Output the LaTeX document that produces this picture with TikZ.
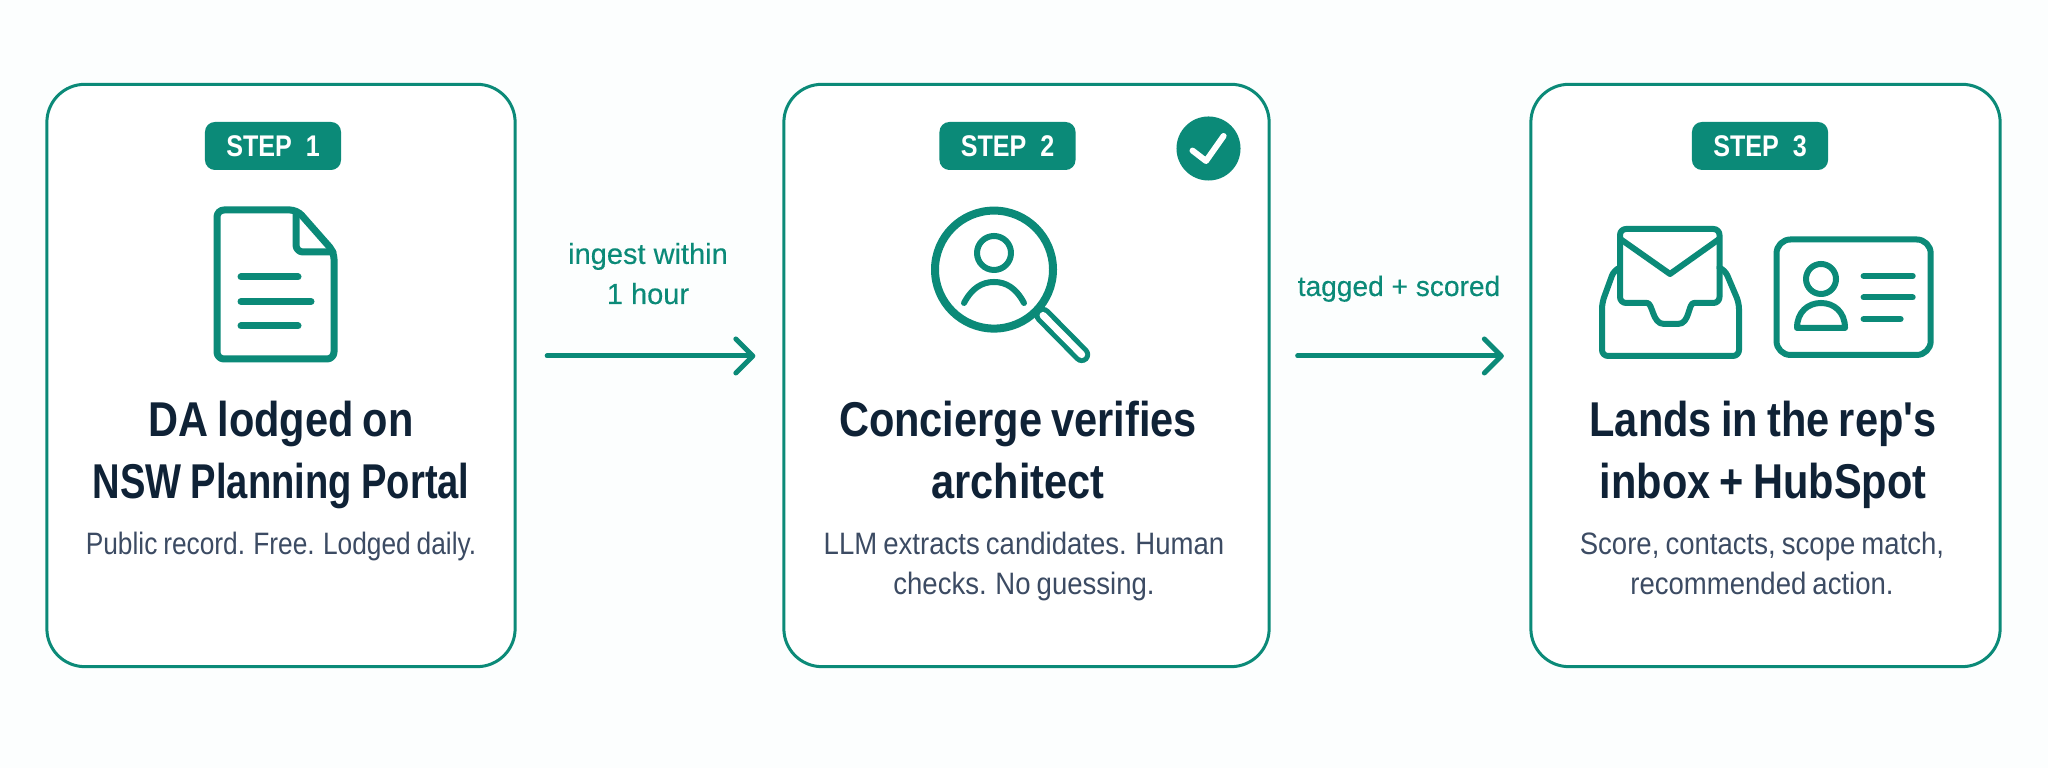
\documentclass[tikz,border=0pt]{standalone}
\usepackage{fontspec}
\setmainfont{Liberation Sans}
\newfontfamily\titlefont[FakeStretch=0.85,WordSpace=0.75]{Liberation Sans}
\newfontfamily\titlenarrow[FakeStretch=0.78,WordSpace=0.9]{Liberation Sans}
\newfontfamily\bodyfont[FakeStretch=0.89,WordSpace=0.8]{Liberation Sans}
\newfontfamily\bodynarrow[FakeStretch=0.85,WordSpace=0.8]{Liberation Sans}
\newfontfamily\stepfont[FakeStretch=0.84]{Liberation Sans}
\newfontfamily\labelfont[FakeBold=0.3]{Liberation Sans}
\usetikzlibrary{calc, positioning, arrows.meta, shapes}
\definecolor{teal1}{HTML}{0B8A78}
\definecolor{ink1}{HTML}{0F2236}
\definecolor{ink2}{HTML}{3C4B63}

\begin{document}
\begin{tikzpicture}[x=.01cm,y=-.01cm,
  card/.style={draw=teal1, line width=.03cm, fill=white, rounded corners=.38cm, minimum height=5.82cm, inner sep=0pt},
  pill/.style={fill=teal1, text=white, rounded corners=.1cm, minimum width=1.36cm, minimum height=.48cm, inner sep=0pt, font=\stepfont\fontsize{8.5pt}{10pt}\bfseries},
  headline/.style={text=ink1, align=center, inner sep=0pt, anchor=base, font=\titlefont\fontsize{13.9pt}{17.9pt}\bfseries\selectfont},
  detail/.style={text=ink2, align=center, inner sep=0pt, anchor=base, font=\bodyfont\fontsize{8.8pt}{11.6pt}\selectfont},
  flowlabel/.style={text=teal1, align=center, inner sep=0pt, anchor=base, font=\labelfont\fontsize{8.25pt}{11.4pt}\selectfont},
  flow/.style={draw=teal1, line width=.05cm, line cap=round, -{Straight Barb[length=.17cm, width=.34cm, round]}},
  icon/.style={draw=teal1, line width=.07cm, line cap=round, line join=round},
  iconthin/.style={draw=teal1, line width=.06cm, line cap=round, line join=round}]
  \useasboundingbox (0,0) rectangle (2048,768);
  \fill[white!99!teal1] (0,0) rectangle (2048,768);

  \node[card, minimum width=4.68cm] (card1) at (281,375.5) {};
  \node[card, minimum width=4.85cm] (card2) at (1026.5,375.5) {};
  \node[card, minimum width=4.69cm] (card3) at (1765.5,375.5) {};

  \node[pill] (step1) at (273,146) {STEP\ \ 1};
  \node[pill] (step2) at (1007.5,146) {STEP\ \ 2};
  \node[pill] (step3) at (1760,146) {STEP\ \ 3};

  \node[headline] (title1) at (281,499) {DA lodged on\\{\titlenarrow\bfseries NSW Planning Portal}};
  \node[headline] (title2) at (1018,499) {Concierge verifies\\architect};
  \node[headline] (title3) at (1763,499) {Lands in the rep's\\inbox + HubSpot};

  \node[detail, font=\bodynarrow\fontsize{8.8pt}{11.6pt}\selectfont] (text1) at (281,554.5) {Public record. Free. Lodged daily.};
  \node[detail] (text2) at (1024,595) {LLM extracts candidates. Human\\checks. No guessing.};
  \node[detail] (text3) at (1762,595) {Score, contacts, scope match,\\recommended action.};

  % connectors
  \coordinate (flowrow) at (0,356);
  \draw[flow, shorten <=.305cm, shorten >=.27cm] (card1.east |- flowrow) -- (card2.west |- flowrow);
  \draw[flow, shorten <=.27cm, shorten >=.255cm] (card2.east |- flowrow) -- (card3.west |- flowrow);
  \node[flowlabel] (lab1) at (648,304) {ingest within\\1 hour};
  \node[flowlabel, font=\labelfont\fontsize{8pt}{10pt}\selectfont] (lab2) at (1399,296) {tagged + scored};

  % document
  \draw[icon, rounded corners=.07cm] (297,210) -- (217,210) -- (217,359) -- (334,359) -- (334,252) -- cycle;
  \draw[icon, rounded corners=.07cm] (296,212) -- (296,252) -- (333,252);
  \draw[icon] (241,277) -- (298,277);
  \draw[icon] (241,301.5) -- (311,301.5);
  \draw[icon] (241,326) -- (298,326);

  % check badge
  \node[circle, fill=teal1, minimum size=.64cm, inner sep=0pt] (badge) at (1208.5,148.5) {};
  \draw[white, line width=.06cm, line cap=round, line join=round] (1192.5,150.6) -- (1206,161) -- (1223.6,136);

  % magnifier
  \draw[teal1, line width=.17cm, line cap=round] (1043,315.4) -- (1081.7,354.6);
  \draw[white, line width=.07cm, line cap=round] (1043,315.4) -- (1081.7,354.6);
  \draw[icon, line width=.08cm, fill=white] (994,269.6) circle (59);
  \draw[iconthin] (994,253) circle (17);
  \draw[iconthin] (964,303) .. controls (972,288) and (982,282) .. (994,282) .. controls (1006,282) and (1016,288) .. (1024,303);

  % inbox and envelope
  \draw[iconthin, rounded corners=.06cm] (1619,268) -- (1614,270) -- (1602,303) -- (1602,356) -- (1739,356) -- (1739,303) -- (1725,270) -- (1720,268);
  \draw[iconthin, rounded corners=.06cm] (1647,303) -- (1620,303) -- (1620,229) -- (1719.5,229) -- (1719.5,303) -- (1694,303);
  \draw[iconthin] (1647,303) .. controls (1653,303) and (1652,324) .. (1664,324) -- (1678,324) .. controls (1690,324) and (1688,303) .. (1694,303);
  \draw[iconthin] (1621,239.5) -- (1670,274) -- (1718.5,239.5);

  % contact card
  \draw[iconthin, rounded corners=.14cm] (1776.5,239.5) rectangle (1930.7,355);
  \draw[iconthin] (1821,279) circle (15);
  \draw[iconthin] (1797,328) .. controls (1797,312) and (1808,303) .. (1821,303) .. controls (1834,303) and (1845,312) .. (1845,328) -- cycle;
  \draw[iconthin] (1863.6,276) -- (1912.7,276);
  \draw[iconthin] (1863.6,297.5) -- (1912.7,297.5);
  \draw[iconthin] (1863.6,319) -- (1900.6,319);
\end{tikzpicture}
\end{document}
